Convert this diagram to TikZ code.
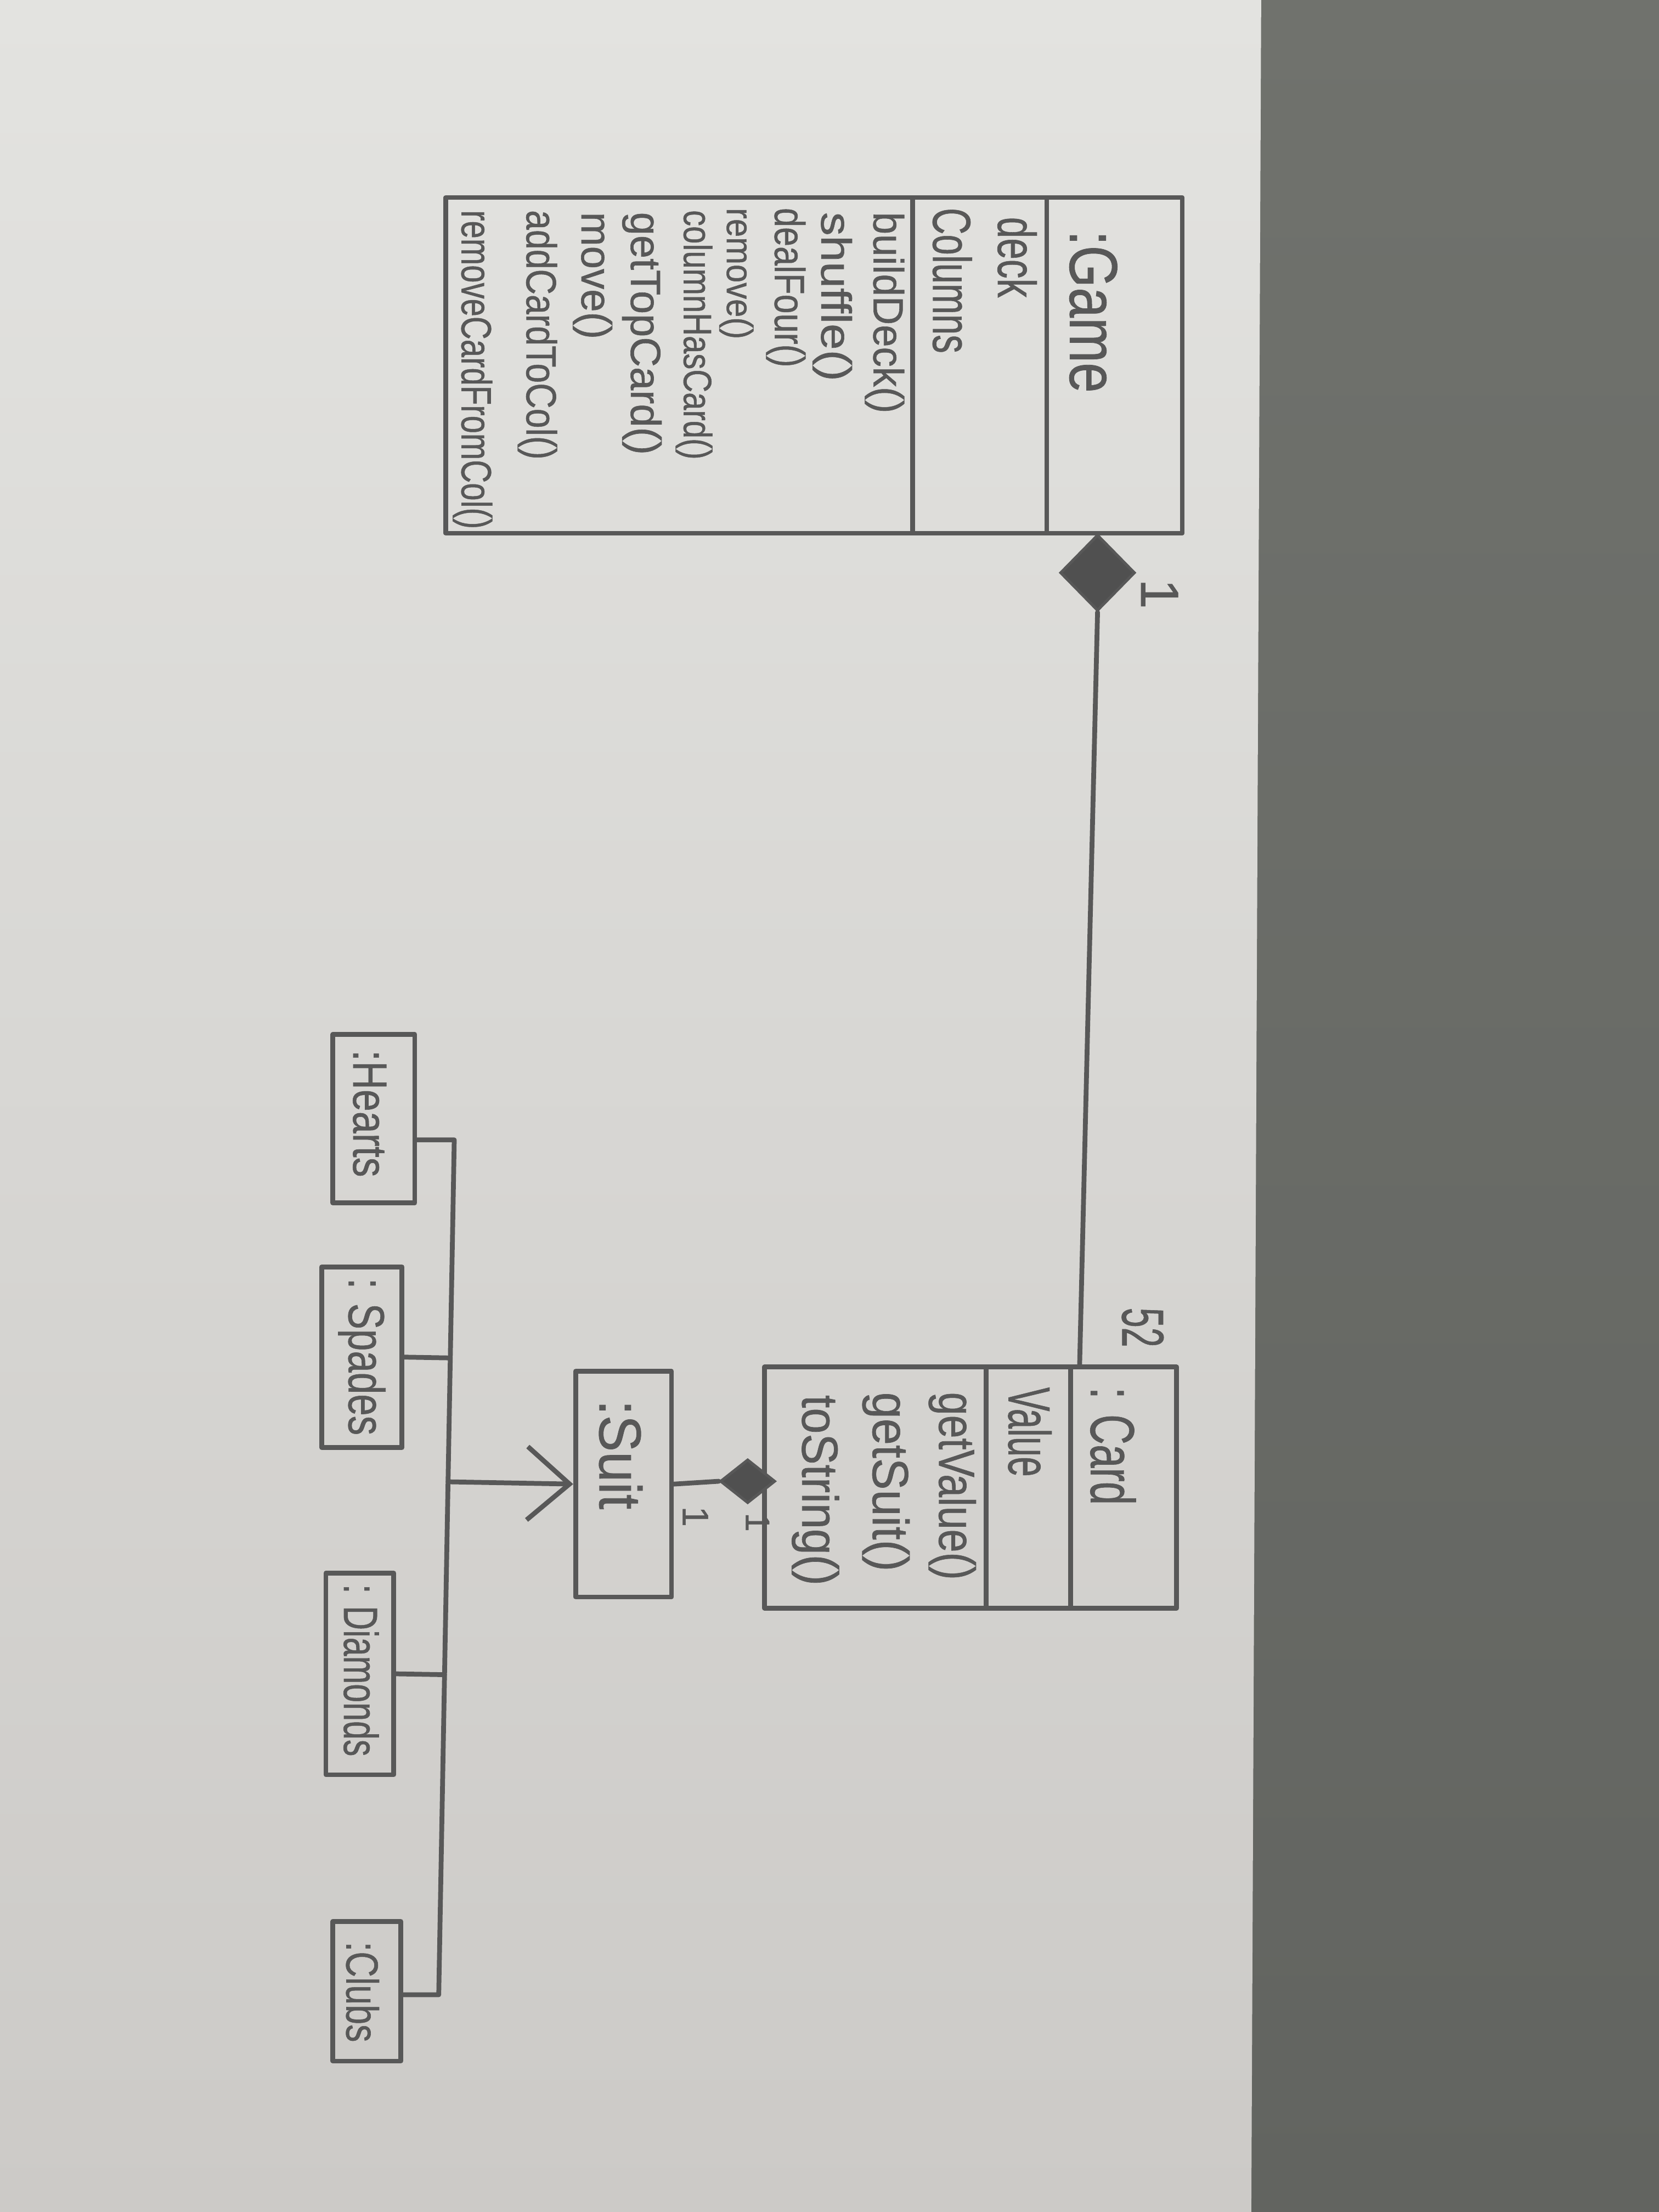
\documentclass[tikz,border=0pt]{standalone}
\usepackage{fontspec}
\setmainfont{Liberation Sans}
\newfontfamily\pen[FakeBold=0.8]{Liberation Sans}
\usepackage{graphicx}
\usetikzlibrary{shapes.geometric,arrows.meta,calc}

\definecolor{paperhi}{HTML}{E3E3E0}
\definecolor{paperlo}{HTML}{CCCAC7}
\definecolor{deskhi}{HTML}{70726D}
\definecolor{desklo}{HTML}{626460}
\definecolor{pencil}{HTML}{585858}
\definecolor{dfill}{HTML}{505050}

% squeeze a label horizontally to a given length
\newsavebox\hwbox
\newlength\hwlen
\newcommand\hw[2]{\sbox\hwbox{#2}\setlength\hwlen{\wd\hwbox}\pgfmathsetmacro\hwscale{#1/\hwlen}\scalebox{\hwscale}[1]{\usebox\hwbox}}
\newcommand\fs[1]{\pen\fontsize{#1}{#1}\selectfont}

\tikzset{
  sk/.style={draw=pencil, line width=1.7pt, line join=round, line cap=round},
  cls/.style={sk, rectangle, inner sep=0pt},
  lbl/.style={text=pencil, inner sep=0pt, rotate=-90, anchor=west},
  mult/.style={text=pencil, inner sep=0pt, rotate=-90, anchor=center},
  dia/.style={diamond, draw=pencil, fill=dfill, line width=1pt, inner sep=0pt},
}

\begin{document}
\begin{tikzpicture}[x=0.5pt,y=-0.5pt]
\useasboundingbox (0,0) rectangle (1176,1568);

% desk and sheet of paper
\shade[top color=deskhi, bottom color=desklo] (0,0) rectangle (1176,1568);
\shade[top color=paperhi, bottom color=paperlo] (0,0) -- (894,0) -- (887,1568) -- (0,1568) -- cycle;

% class Game
\node[cls, minimum width=48pt, minimum height=119pt] (gName) at (790,259) {};
\node[cls, minimum width=47.5pt, minimum height=119pt] (gAttr) at (694.5,259) {};
\node[cls, minimum width=165.5pt, minimum height=119pt] (gOps) at (481.5,259) {};

\node[lbl, font=\fs{24}] (tGame) at (775,163) {\hw{57.5pt}{:Game}};
\node[lbl, font=\fs{19}] (tDeck) at (721,153.5) {\hw{28.5pt}{deck}};
\node[lbl, font=\fs{19}] (tCols) at (675,147) {\hw{51.5pt}{Columns}};
\node[lbl, font=\fs{15}] (tBuild) at (627,150) {\hw{71.3pt}{buildDeck()}};
\node[lbl, font=\fs{15}] (tShuf) at (590,150) {\hw{59.9pt}{shuffle()}};
\node[lbl, font=\fs{15}] (tDeal) at (557,147) {\hw{56.5pt}{dealFour()}};
\node[lbl, font=\fs{13}] (tRem) at (522,147) {\hw{46.5pt}{remove()}};
\node[lbl, font=\fs{14}] (tColHas) at (492,148.6) {\hw{88.4pt}{columnHasCard()}};
\node[lbl, font=\fs{15}] (tTop) at (455,150) {\hw{86pt}{getTopCard()}};
\node[lbl, font=\fs{15}] (tMove) at (420,150) {\hw{45pt}{move()}};
\node[lbl, font=\fs{15}] (tAdd) at (381,148.6) {\hw{88.4pt}{addCardToCol()}};
\node[lbl, font=\fs{15}] (tRemCol) at (335,148.6) {\hw{113pt}{removeCardFromCol()}};

% class Card
\node[cls, minimum width=37.5pt, minimum height=85.5pt] (cName) at (796.5,1054.5) {};
\node[cls, minimum width=30pt, minimum height=85.5pt] (cAttr) at (729,1054.5) {};
\node[cls, minimum width=78.5pt, minimum height=85.5pt] (cOps) at (620.5,1054.5) {};

\node[lbl, font=\fs{22}] (tCard) at (789,983) {\hw{41.7pt}{: Card}};
\node[lbl, font=\fs{21}] (tValue) at (730,983) {\hw{31.7pt}{Value}};
\node[lbl, font=\fs{18}] (tGetV) at (675,986.5) {\hw{66.5pt}{getValue()}};
\node[lbl, font=\fs{18}] (tGetS) at (628,986.5) {\hw{63.5pt}{getSuit()}};
\node[lbl, font=\fs{18}] (tToS) at (578,988.5) {\hw{67.5pt}{toString()}};

% class Suit and its four kinds
\node[cls, minimum width=34pt, minimum height=80pt] (suit) at (442,1052) {};
\node[lbl, font=\fs{21}] (tSuit) at (440,992) {\hw{38.8pt}{:Suit}};

\node[cls, minimum width=29pt, minimum height=59.75pt] (hearts) at (265,793) {};
\node[lbl, font=\fs{17}] (tHearts) at (262,744) {\hw{45pt}{:Hearts}};
\node[cls, minimum width=28.5pt, minimum height=64pt] (spades) at (256.5,962) {};
\node[lbl, font=\fs{18}] (tSpades) at (256.5,905.6) {\hw{55.7pt}{: Spades}};
\node[cls, minimum width=24pt, minimum height=71.5pt] (diamonds) at (255,1186.5) {};
\node[lbl, font=\fs{17}] (tDiam) at (256,1122.6) {\hw{61pt}{: Diamonds}};
\node[cls, minimum width=24pt, minimum height=49.5pt] (clubs) at (260,1411.5) {};
\node[lbl, font=\fs{16}] (tClubs) at (257,1376) {\hw{35.6pt}{:Clubs}};

% generalisation tree
\coordinate (trTop) at (322,808);
\coordinate (trBot) at (311,1414);
\draw[sk] (hearts.east |- trTop) -- (trTop) -- (trBot) -- (clubs.east |- trBot);
\draw[sk] (spades.east) -- ($(trTop)!(spades.east)!(trBot)$);
\draw[sk] (diamonds.east) -- ($(trTop)!(diamonds.east)!(trBot)$);
\draw[sk, -{Straight Barb[length=15pt,width=26pt]}] ($(trTop)!(suit.west)!(trBot)$) -- (suit.west);

% compositions
\node[dia, minimum width=26.5pt, minimum height=27pt] (gdia) at (778,406) {};
\draw[sk] (gdia.south) -- ([xshift=4pt]cName.north west);
\node[dia, minimum width=19.5pt, minimum height=15.5pt] (cdia) at (530,1050) {};
\draw[sk] (suit.east) -- (cdia.west);

% multiplicities
\node[mult, font=\fs{19}] (mGame) at (822,421) {1};
\node[mult, font=\fs{21}] (mCard) at (810,941) {\hw{14pt}{52}};
\node[mult, font=\fs{13}] (mSuit) at (493,1075) {1};
\node[mult, font=\fs{12}] (mCardS) at (537,1079) {1};
\end{tikzpicture}
\end{document}
